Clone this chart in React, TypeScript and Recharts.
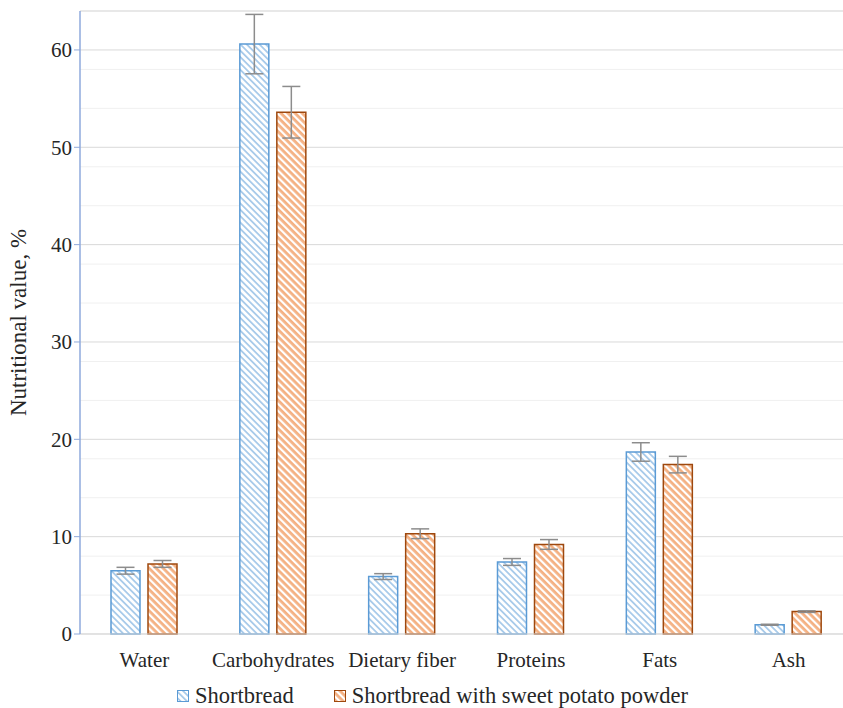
import { Bar, BarChart, CartesianGrid, ErrorBar, Legend, XAxis, YAxis } from "recharts"

const categories = ["Water", "Carbohydrates", "Dietary fiber", "Proteins", "Fats", "Ash"]
const shortbread = [6.5, 60.6, 5.9, 7.4, 18.7, 0.95]
const shortbreadErr = [0.35, 3.05, 0.3, 0.35, 0.95, 0.05]
const sweetPotato = [7.2, 53.6, 10.3, 9.2, 17.4, 2.3]
const sweetPotatoErr = [0.35, 2.65, 0.5, 0.5, 0.85, 0.08]
const majorTicks = [0, 10, 20, 30, 40, 50, 60]
const minorTicks = [2, 4, 6, 8, 12, 14, 16, 18, 22, 24, 26, 28, 32, 34, 36, 38, 42, 44, 46, 48, 52, 54, 56, 58, 62, 64]

const data = categories.map((name, i) => ({
    name,
    shortbread: shortbread[i],
    shortbreadErr: shortbreadErr[i],
    sweetPotato: sweetPotato[i],
    sweetPotatoErr: sweetPotatoErr[i],
}))

const font = "Liberation Serif, DejaVu Serif, Times, serif"

const legendItems = [
    { label: "Shortbread", fill: "url(#hatchBlue)", stroke: "#5b9bd5" },
    { label: "Shortbread with sweet potato powder", fill: "url(#hatchOrange)", stroke: "#9e480e" },
]

function LegendContent() {
    return (
        <div style={{ display: "flex", justifyContent: "center", gap: 40, paddingLeft: 12, fontFamily: font, fontSize: 22.5, lineHeight: "24px", color: "#262626" }}>
            {legendItems.map((item) => (
                <div key={item.label} style={{ display: "flex", alignItems: "center", gap: 6 }}>
                    <svg width={12} height={12}>
                        <rect x={0.5} y={0.5} width={11} height={11} fill={item.fill} stroke={item.stroke} />
                    </svg>
                    <span>{item.label}</span>
                </div>
            ))}
        </div>
    )
}

export default function App() {
    return (
        <div style={{ position: "absolute", left: 0, top: 0, width: 843, height: 708, overflow: "hidden", background: "#fff" }}>
            <BarChart
                width={860}
                height={708}
                data={data}
                margin={{ top: 11, right: 7, bottom: 10, left: 0 }}
                barSize={29}
                barGap={8}
            >
                <defs>
                    <pattern id="hatchBlue" patternUnits="userSpaceOnUse" width={4.5} height={4.5} patternTransform="rotate(45)">
                        <rect width={4.5} height={4.5} fill="#ffffff" />
                        <rect width={4.5} height={1.8} fill="#a9cbea" />
                    </pattern>
                    <pattern id="hatchOrange" patternUnits="userSpaceOnUse" width={5} height={5} patternTransform="rotate(45)">
                        <rect width={5} height={5} fill="#ffffff" />
                        <rect width={5} height={2.8} fill="#f4b183" />
                    </pattern>
                </defs>
                <CartesianGrid vertical={false} horizontalValues={minorTicks} stroke="#f0f0f0" />
                <CartesianGrid vertical={false} stroke="#d9d9d9" />
                <XAxis
                    dataKey="name"
                    tickLine={false}
                    axisLine={{ stroke: "#d9d9d9" }}
                    tick={{ fill: "#262626", fontFamily: font, fontSize: 21 }}
                    tickMargin={12}
                    height={40}
                />
                <YAxis
                    domain={[0, 64]}
                    ticks={majorTicks}
                    width={80}
                    axisLine={{ stroke: "#8faadc", strokeWidth: 1.5 }}
                    tickLine={{ stroke: "#8faadc" }}
                    tickSize={6}
                    tick={{ fill: "#262626", fontFamily: font, fontSize: 21 }}
                    label={{
                        value: "Nutritional value, %",
                        angle: -90,
                        position: "center",
                        dx: -22,
                        style: { fill: "#262626", fontFamily: font, fontSize: 23, textAnchor: "middle" },
                    }}
                />
                <Bar dataKey="shortbread" name="Shortbread" fill="url(#hatchBlue)" stroke="#5b9bd5" strokeWidth={1.5} isAnimationActive={false}>
                    <ErrorBar dataKey="shortbreadErr" width={9} stroke="#8c8c8c" strokeWidth={1.5} isAnimationActive={false} />
                </Bar>
                <Bar dataKey="sweetPotato" name="Shortbread with sweet potato powder" fill="url(#hatchOrange)" stroke="#9e480e" strokeWidth={1.5} isAnimationActive={false}>
                    <ErrorBar dataKey="sweetPotatoErr" width={9} stroke="#8c8c8c" strokeWidth={1.5} isAnimationActive={false} />
                </Bar>
                <Legend verticalAlign="bottom" wrapperStyle={{ bottom: 0 }} content={() => <LegendContent />} />
            </BarChart>
        </div>
    )
}
